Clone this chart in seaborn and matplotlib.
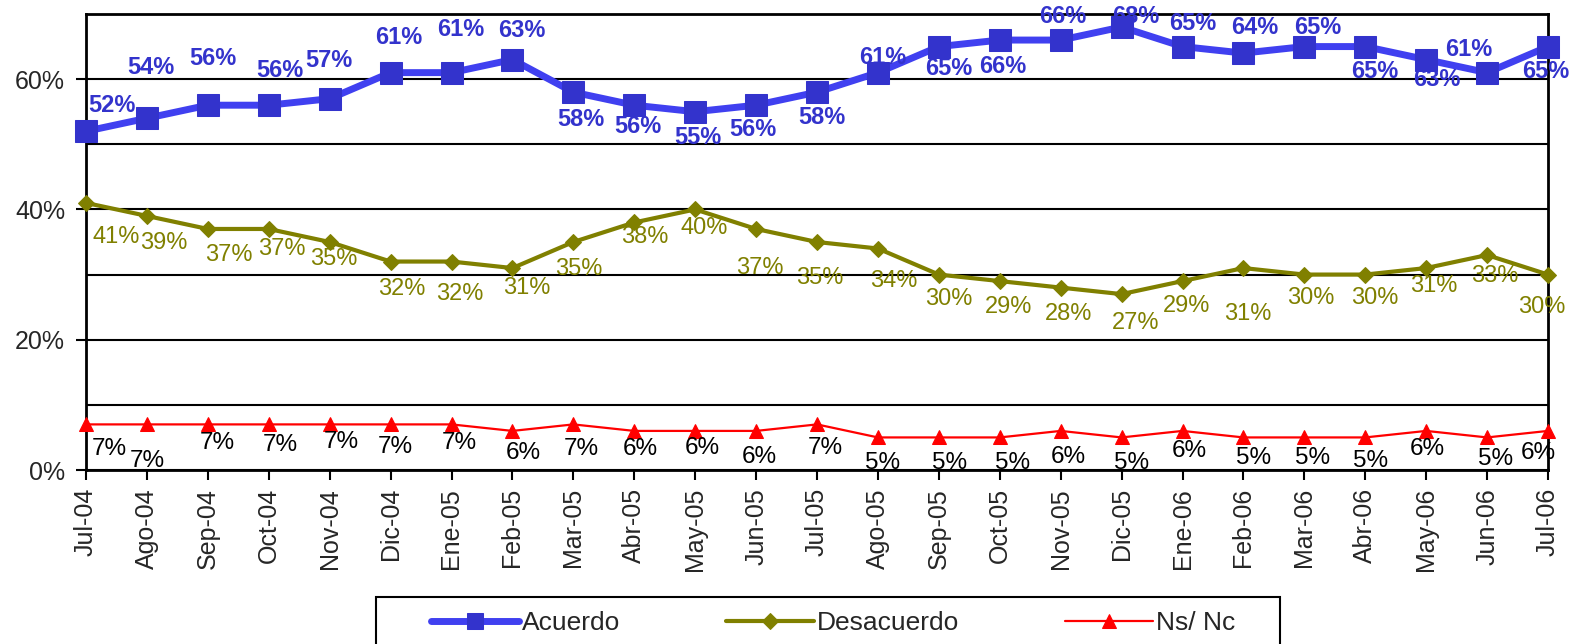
import numpy as np
import pandas as pd
import seaborn as sns
import matplotlib.pyplot as plt
from matplotlib.patches import Rectangle

meses = ['Jul-04', 'Ago-04', 'Sep-04', 'Oct-04', 'Nov-04', 'Dic-04', 'Ene-05', 'Feb-05',
         'Mar-05', 'Abr-05', 'May-05', 'Jun-05', 'Jul-05', 'Ago-05', 'Sep-05', 'Oct-05',
         'Nov-05', 'Dic-05', 'Ene-06', 'Feb-06', 'Mar-06', 'Abr-06', 'May-06', 'Jun-06', 'Jul-06']
acuerdo = [52, 54, 56, 56, 57, 61, 61, 63, 58, 56, 55, 56, 58, 61, 65, 66, 66, 68, 65, 64, 65, 65, 63, 61, 65]
desacuerdo = [41, 39, 37, 37, 35, 32, 32, 31, 35, 38, 40, 37, 35, 34, 30, 29, 28, 27, 29, 31, 30, 30, 31, 33, 30]
ns_nc = [7, 7, 7, 7, 7, 7, 7, 6, 7, 6, 6, 6, 7, 5, 5, 5, 6, 5, 6, 5, 5, 5, 6, 5, 6]

# where each value label sits relative to its point (pixels: right, down)
off_acuerdo = [(26, -26), (4, -51), (5, -47), (11, -35), (-1, -38), (8, -35), (9, -43), (9, -29),
               (8, 27), (4, 21), (3, 26), (-3, 24), (5, 25), (5, -15), (10, 22), (3, 26),
               (2, -24), (14, -11), (10, -23), (11, -26), (13, -19), (9, 25), (11, 20), (-18, -23), (-2, 25)]
off_desac = [(30, 34), (17, 27), (21, 26), (13, 20), (4, 17), (11, 27), (8, 32), (14, 20),
             (5, 27), (11, 15), (9, 19), (4, 39), (3, 36), (16, 32), (10, 24), (9, 26),
             (8, 26), (14, 29), (4, 25), (4, 46), (6, 23), (10, 23), (8, 18), (8, 21), (-6, 32)]
off_ns = [(23, 25), (0, 37), (9, 19), (12, 21), (12, 18), (5, 23), (8, 19), (11, 22),
          (8, 25), (6, 18), (7, 17), (3, 26), (8, 24), (5, 26), (11, 26), (13, 26),
          (8, 26), (10, 26), (7, 20), (10, 21), (8, 21), (5, 24), (1, 18), (8, 22), (-10, 22)]

sns.set_style('white')
plt.rcParams['font.family'] = ['Liberation Sans', 'DejaVu Sans']

W, H = 1574, 644
fig, ax = plt.subplots(figsize=(W / 100, H / 100), dpi=100)
plt.subplots_adjust(left=86 / W, right=1548 / W, bottom=1 - 470 / H, top=1 - 14 / H)

df = pd.DataFrame({'mes': meses, 'Acuerdo': acuerdo, 'Desacuerdo': desacuerdo, 'Ns/ Nc': ns_nc})

sns.lineplot(data=df, x='mes', y='Ns/ Nc', sort=False, ax=ax, color='#FF0000', lw=1.6,
             marker='^', ms=10, mfc='#FF0000', mec='#FF0000', label='Ns/ Nc', clip_on=False, zorder=4)
sns.lineplot(data=df, x='mes', y='Desacuerdo', sort=False, ax=ax, color='#808000', lw=3,
             marker='D', ms=8.5, mfc='#808000', mec='#808000', label='Desacuerdo', clip_on=False, zorder=5)
sns.lineplot(data=df, x='mes', y='Acuerdo', sort=False, ax=ax, color='#4040F0', lw=5,
             marker='s', ms=16.5, mfc='#3333CC', mec='#3333CC', label='Acuerdo', clip_on=False, zorder=6)

for i, (v, (dx, dy)) in enumerate(zip(acuerdo, off_acuerdo)):
    ax.annotate(f'{v}%', (i, v), xytext=(dx, -dy), textcoords='offset pixels', ha='center', va='center',
                fontsize=17, fontweight='bold', color='#3333CC', zorder=10, annotation_clip=False)
for i, (v, (dx, dy)) in enumerate(zip(desacuerdo, off_desac)):
    ax.annotate(f'{v}%', (i, v), xytext=(dx, -dy), textcoords='offset pixels', ha='center', va='center',
                fontsize=17, color='#808000', zorder=10, annotation_clip=False)
for i, (v, (dx, dy)) in enumerate(zip(ns_nc, off_ns)):
    ax.annotate(f'{v}%', (i, v), xytext=(dx, -dy), textcoords='offset pixels', ha='center', va='center',
                fontsize=17.5, color='black', zorder=10, annotation_clip=False)

ax.set_xlim(0, len(meses) - 1)
ax.set_ylim(0, 70)
ax.set_xticks(range(len(meses)))
ax.set_xticklabels(meses, rotation=90)
ax.set_yticks([0, 20, 40, 60])
ax.set_yticklabels(['0%', '20%', '40%', '60%'])
ax.set_yticks([10, 30, 50, 70], minor=True)
ax.grid(axis='y', which='both', color='black', lw=1.5)
ax.set_axisbelow(True)
ax.tick_params(axis='both', which='major', direction='out', length=7, width=1.5,
               labelsize=18, bottom=True, left=True, color='black')
ax.tick_params(axis='x', pad=6)
ax.tick_params(axis='y', pad=8)
ax.tick_params(axis='y', which='minor', length=0)
ax.set_xlabel('')
ax.set_ylabel('')
for s in ax.spines.values():
    s.set_color('black')
    s.set_linewidth(2)

handles, labels = ax.get_legend_handles_labels()
ax.get_legend().remove()
order = [labels.index(n) for n in ['Acuerdo', 'Desacuerdo', 'Ns/ Nc']]
leg = fig.legend([handles[k] for k in order], [labels[k] for k in order], loc='center left',
                 bbox_to_anchor=(431 / W, 1 - 623 / H), ncol=3, frameon=False, fontsize=19,
                 handlelength=3.33, handletextpad=0.12, columnspacing=4.0, borderpad=0,
                 borderaxespad=0)
for h, ms in zip(leg.legend_handles, [12, 8.5, 10]):
    h.set_markersize(ms)
fig.patches.append(Rectangle((376 / W, -0.05), (1280 - 376) / W, 0.05 + (644 - 597) / H,
                             transform=fig.transFigure, fill=False, ec='black', lw=1.5))

fig.savefig('out.png', dpi=100)
